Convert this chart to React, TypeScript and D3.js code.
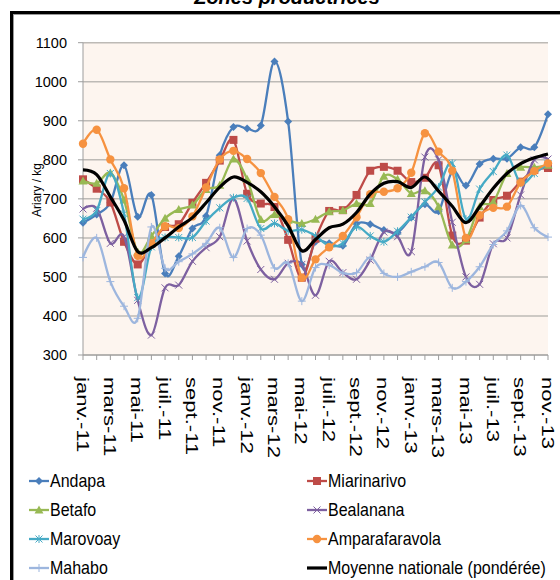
import React from 'react';
import * as d3 from 'd3';

const categories = [
  'janv.-11','févr.-11','mars-11','avr.-11','mai-11','juin-11','juil.-11','août-11','sept.-11','oct.-11','nov.-11','déc.-11',
  'janv.-12','févr.-12','mars-12','avr.-12','mai-12','juin-12','juil.-12','août-12','sept.-12','oct.-12','nov.-12','déc.-12',
  'janv.-13','févr.-13','mars-13','avr.-13','mai-13','juin-13','juil.-13','août-13','sept.-13','oct.-13','nov.-13'
];
const yTicks = [300, 400, 500, 600, 700, 800, 900, 1000, 1100];

const andapa = [639,660,690,786,654,710,509,553,624,656,812,884,880,888,1052,898,532,590,586,580,636,635,620,614,652,686,668,770,734,789,803,803,832,832,917];
const miarinarivo = [750,726,691,590,532,585,628,635,690,741,798,851,713,688,679,595,498,598,669,671,710,772,782,772,743,754,786,606,593,652,697,708,744,774,779];
const betafo = [746,740,766,697,564,605,650,673,684,724,735,802,750,647,660,645,637,648,667,670,688,688,758,750,714,721,680,582,595,680,692,765,781,781,786];
const bealanana = [674,676,586,603,440,351,472,479,540,575,603,700,592,519,494,535,532,453,540,511,494,543,615,603,565,807,800,640,500,481,585,600,710,800,802];
const marovoay = [648,670,765,662,447,577,601,601,601,643,677,703,701,624,637,618,621,605,580,586,628,605,590,617,653,692,730,791,648,725,770,812,740,765,790];
const amparafaravola = [841,877,801,727,554,586,630,625,655,729,801,823,802,766,705,648,498,545,576,605,653,712,718,727,767,868,821,772,600,658,677,680,742,771,791];
const mahabo = [550,600,488,425,394,628,522,539,559,586,626,550,624,607,523,535,438,524,530,510,511,550,509,500,513,526,537,472,488,526,583,618,683,626,602];
const moyenne = [774,762,705,645,565,575,600,628,652,690,730,756,742,718,680,631,567,596,626,635,665,712,740,744,729,756,720,681,639,680,727,765,790,805,815];

const seriesNames = ['Andapa','Miarinarivo','Betafo','Bealanana','Marovoay','Amparafaravola','Mahabo','Moyenne nationale (pondérée)'];
const seriesValues = [andapa, miarinarivo, betafo, bealanana, marovoay, amparafaravola, mahabo, moyenne];
const seriesColors = ['#4A7EBB','#BE4B48','#98B954','#7D60A0','#46AAC5','#F69240','#9DB6DE','#000000'];
const seriesMarkers = ['diamond','square','triangle','x','asterisk','circle','plus','none'];

const W = 560, H = 580;
const PL = 83, PR = 548, PT = 42.7, PB = 355;
const FONT = '"Liberation Sans", Arial, sans-serif';

function Marker({ type, cx, cy, color }: { type: string; cx: number; cy: number; color: string }) {
  switch (type) {
    case 'diamond':
      return <path d={`M${cx},${cy - 4}L${cx + 4},${cy}L${cx},${cy + 4}L${cx - 4},${cy}Z`} fill={color} />;
    case 'square':
      return <rect x={cx - 4} y={cy - 4} width={8} height={8} fill={color} />;
    case 'triangle':
      return <path d={`M${cx},${cy - 4.5}L${cx + 4.5},${cy + 3.5}L${cx - 4.5},${cy + 3.5}Z`} fill={color} />;
    case 'circle':
      return <circle cx={cx} cy={cy} r={4.2} fill={color} />;
    case 'x':
      return <path d={`M${cx - 3.5},${cy - 3.5}L${cx + 3.5},${cy + 3.5}M${cx - 3.5},${cy + 3.5}L${cx + 3.5},${cy - 3.5}`} stroke={color} strokeWidth={1} fill="none" />;
    case 'asterisk':
      return <path d={`M${cx - 3.5},${cy - 3.5}L${cx + 3.5},${cy + 3.5}M${cx - 3.5},${cy + 3.5}L${cx + 3.5},${cy - 3.5}M${cx},${cy - 4}L${cx},${cy + 4}`} stroke={color} strokeWidth={1} fill="none" />;
    case 'plus':
      return <path d={`M${cx - 4},${cy}L${cx + 4},${cy}M${cx},${cy - 4}L${cx},${cy + 4}`} stroke={color} strokeWidth={1} fill="none" />;
    default:
      return null;
  }
}

export default function App() {
  const x = d3.scalePoint<string>().domain(categories).range([PL, PR]);
  const y = d3.scaleLinear().domain([300, 1100]).range([PB, PT]);
  const line = d3.line<number>()
    .x((_, i) => x(categories[i]) as number)
    .y((d) => y(d))
    .curve(d3.curveCardinal.tension(0));

  const legendRows = [481, 510, 539, 568];
  const legendCols = [{ lx: 29, tx: 50 }, { lx: 307, tx: 328 }];

  return (
    <svg width={W} height={H} style={{ position: 'absolute', left: 0, top: 0, background: '#fff' }} fontFamily={FONT}>
      <rect x={0} y={0} width={W} height={H} fill="#fff" />
      <text x={287} y={4} textAnchor="middle" fontSize={20} fontWeight="bold" fontStyle="italic" fill="#000">Zones productrices</text>
      <rect x={11.5} y={12.5} width={620} height={620} fill="#fff" stroke="#000" strokeWidth={3} />
      <line x1={13} y1={14.5} x2={W} y2={14.5} stroke="#9a9a9a" strokeWidth={1} />
      <line x1={13.5} y1={14} x2={13.5} y2={H} stroke="#9a9a9a" strokeWidth={1} />

      <rect x={PL} y={PT} width={PR - PL} height={PB - PT} fill="#FDF5EF" />
      {yTicks.map((t) => (
        <g key={t}>
          <line x1={PL} x2={PR} y1={y(t)} y2={y(t)} stroke="#BDBAB6" strokeWidth={1.5} />
          <line x1={PL - 5} x2={PL} y1={y(t)} y2={y(t)} stroke="#9d9d9d" strokeWidth={1} />
          <text x={67} y={y(t)} textAnchor="end" dominantBaseline="central" fontSize={14.5} fill="#000">{t}</text>
        </g>
      ))}
      <line x1={PL} x2={PL} y1={PT} y2={PB} stroke="#9d9d9d" strokeWidth={1} />
      <line x1={PL} x2={PR} y1={PB} y2={PB} stroke="#9d9d9d" strokeWidth={1} />
      {categories.map((c) => (
        <line key={c} x1={x(c)} x2={x(c)} y1={PB} y2={PB + 5} stroke="#9d9d9d" strokeWidth={1} />
      ))}
      {categories.map((c, i) => i % 2 === 0 ? (
        <text key={'l' + c} transform={`translate(${(x(c) as number) - 1},377) rotate(90) scale(1.38,1)`} textAnchor="start" dominantBaseline="central" fontSize={16} fill="#000">{c}</text>
      ) : null)}
      <text transform={`translate(37,190) rotate(-90)`} textAnchor="middle" dominantBaseline="central" fontSize={12} fill="#000">Ariary / kg</text>

      {seriesValues.map((vals, si) => (
        <g key={seriesNames[si]}>
          <path d={line(vals) || ''} fill="none" stroke={seriesColors[si]} strokeWidth={si === 7 ? 3.2 : 2.3} strokeLinejoin="round" />
          {vals.map((v, i) => (
            <Marker key={i} type={seriesMarkers[si]} cx={x(categories[i]) as number} cy={y(v)} color={seriesColors[si]} />
          ))}
        </g>
      ))}

      {seriesNames.map((name, si) => {
        const col = legendCols[si % 2];
        const ry = legendRows[Math.floor(si / 2)];
        return (
          <g key={'lg' + name}>
            <line x1={col.lx} x2={col.lx + 20} y1={ry} y2={ry} stroke={seriesColors[si]} strokeWidth={si === 7 ? 3.2 : 2.3} />
            <Marker type={seriesMarkers[si]} cx={col.lx + 10} cy={ry} color={seriesColors[si]} />
            <text transform={`translate(${col.tx},${ry}) scale(1,1.15)`} dominantBaseline="central" fontSize={16} fill="#000">{name}</text>
          </g>
        );
      })}
    </svg>
  );
}
